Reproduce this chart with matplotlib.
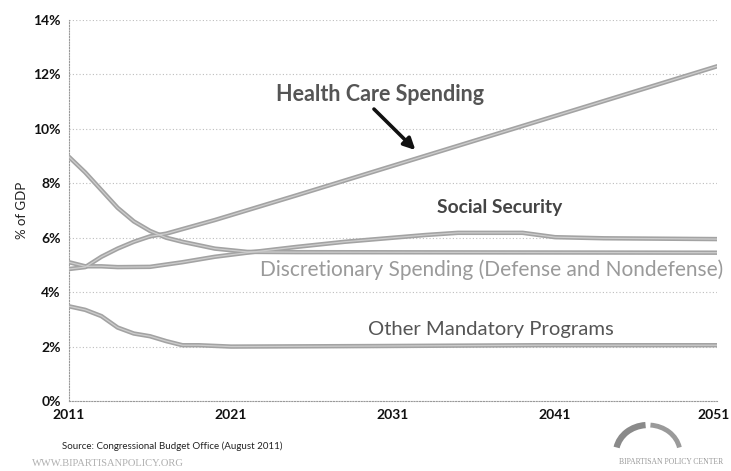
import numpy as np
import matplotlib
matplotlib.use('Agg')
import matplotlib.pyplot as plt
import matplotlib.transforms as mtransforms
from matplotlib.patches import Arc

plt.rcParams['font.family'] = ['Lato', 'DejaVu Sans']

health_years = [2011, 2012, 2013, 2014, 2015, 2016, 2017, 2020, 2025, 2051]
health = [4.85, 4.92, 5.3, 5.6, 5.85, 6.05, 6.15, 6.65, 7.55, 12.3]
ss_years = [2011, 2012, 2013, 2014, 2016, 2018, 2020, 2022, 2025, 2028, 2031, 2033, 2035,
            2039, 2041, 2044, 2051]
ss = [5.1, 4.95, 4.95, 4.92, 4.93, 5.1, 5.3, 5.45, 5.66, 5.85, 6.0, 6.1, 6.18,
      6.18, 6.02, 5.98, 5.95]
disc_years = [2011, 2012, 2013, 2014, 2015, 2016, 2017, 2018, 2020, 2022, 2025, 2051]
disc = [8.97, 8.4, 7.75, 7.1, 6.6, 6.25, 6.0, 5.85, 5.6, 5.48, 5.47, 5.45]
other_years = [2011, 2012, 2013, 2014, 2015, 2016, 2017, 2018, 2019, 2021, 2030, 2040, 2051]
other = [3.48, 3.35, 3.12, 2.7, 2.48, 2.38, 2.2, 2.05, 2.05, 2.0, 2.02, 2.05, 2.05]

fig = plt.figure(figsize=(7.31, 4.71), dpi=100)
ax = fig.add_axes([0.0944, 0.1486, 0.8866, 0.8089])

for xs, ys in [(health_years, health), (ss_years, ss), (disc_years, disc), (other_years, other)]:
    ax.plot(xs, ys, color='#a3a3a3', lw=3.2, solid_capstyle='round', zorder=3)
    ax.plot(xs, ys, color='#cdcdcd', lw=0.9, zorder=4)

ax.set_xlim(2011, 2051)
ax.set_ylim(0, 14)
ax.set_xticks([2011, 2021, 2031, 2041, 2051])
ax.set_yticks(np.arange(0, 15, 2))
ax.set_yticklabels([f'{v}%' for v in range(0, 15, 2)])
ax.tick_params(length=0, labelsize=10, colors='#111111', pad=6)
for lab in ax.get_xticklabels() + ax.get_yticklabels():
    lab.set_fontweight('bold')
last = ax.get_xticklabels()[-1]
last.set_transform(last.get_transform() + mtransforms.ScaledTranslation(-4 / 100, 0, fig.dpi_scale_trans))
ax.grid(axis='y', color='#bdbdbd', ls=(0, (1, 2)), lw=0.8)
for s in ['top', 'right']:
    ax.spines[s].set_visible(False)
for s in ['left', 'bottom']:
    ax.spines[s].set_color('#999999')
    ax.spines[s].set_linestyle((0, (1, 1.5)))
    ax.spines[s].set_linewidth(0.8)
ax.set_ylabel('% of GDP', fontsize=9.5, color='#222222', labelpad=4)

ax.text(2030.2, 11.25, 'Health Care Spending', fontsize=15.5, fontweight='bold',
        color='#555555', ha='center', va='center')
ax.annotate('', xy=(2032.5, 9.15), xytext=(2029.7, 10.8),
            arrowprops=dict(arrowstyle='-|>', color='#111111', lw=2.6, mutation_scale=17))
ax.text(2037.6, 7.1, 'Social Security', fontsize=13.9, fontweight='bold',
        color='#444444', ha='center', va='center')
ax.text(2037.1, 4.82, 'Discretionary Spending (Defense and Nondefense)', fontsize=15.0,
        color='#9a9a9a', ha='center', va='center')
ax.text(2037.05, 2.61, 'Other Mandatory Programs', fontsize=14.6,
        color='#555555', ha='center', va='center')

fig.text(62 / 731, 1 - 446 / 471, 'Source: Congressional Budget Office (August 2011)',
         fontsize=7.0, color='#222222', va='center')
fig.text(32 / 731, 1 - 463 / 471, 'WWW.BIPARTISANPOLICY.ORG', fontsize=7.6,
         color='#b0b0b0', va='center', family=['Liberation Serif'])
fig.text(671 / 731, 1 - 462 / 471, 'BIPARTISAN POLICY CENTER', fontsize=5.5,
         color='#999999', va='center', ha='center', family=['Liberation Serif'])
logo = fig.add_axes([608 / 731, 1 - 456 / 471, 80 / 731, 36 / 471])
logo.axis('off')
logo.set_xlim(0, 80)
logo.set_ylim(0, 36)
logo.add_patch(Arc((40, 3), 64, 56, theta1=95, theta2=170, color='#8a8a8a', lw=4.5))
logo.add_patch(Arc((40, 3), 64, 56, theta1=10, theta2=85, color='#9a9a9a', lw=3.5))

fig.savefig('out.png', dpi=100, facecolor='white')
